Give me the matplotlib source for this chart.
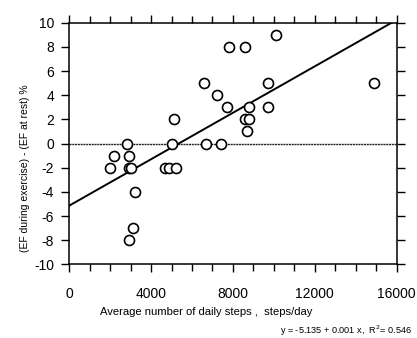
import numpy as np
import matplotlib
matplotlib.use("Agg")
import matplotlib.pyplot as plt

plt.rcParams['font.family'] = ['Liberation Sans', 'DejaVu Sans']
plt.rcParams['axes.unicode_minus'] = False

# donnees
pas = [2800, 5000, 2200, 2900, 2000, 2900, 3000, 4700, 4900, 5200, 3200, 3100, 2900, 5100,
       10100, 7800, 8600, 6600, 9700, 7200, 7700, 8800, 9700, 8600, 8800, 8700, 6700, 7400,
       14900]
delta_ef = [0, 0, -1, -1, -2, -2, -2, -2, -2, -2, -4, -7, -8, 2,
            9, 8, 8, 5, 5, 4, 3, 3, 3, 2, 2, 1, 0, 0,
            5]

# droite de regression (pente estimee sur l'image)
intercept = -5.135
pente = 0.00096

x_ticks = [0, 4000, 8000, 12000, 16000]
y_ticks = [10, 8, 6, 4, 2, 0, -2, -4, -6, -8, -10]

fig = plt.figure(figsize=(4.17, 3.38), dpi=100)
ax = fig.add_axes([0.166, 0.2175, 0.785, 0.7155])

ax.axhline(0, color='#222222', lw=1.0, ls=(0, (1.5, 0.5)), zorder=1)

xl = np.array([0, 16000])
ax.plot(xl, intercept + pente * xl, color='black', lw=1.4, zorder=2)

ax.plot(pas, delta_ef, 'o', mfc='white', mec='black', ms=7.2, mew=1.2, zorder=3)

ax.set_xlim(0, 16000)
ax.set_ylim(-10, 10)
ax.set_xticks(x_ticks)
ax.set_xticks(np.arange(0, 16001, 1000), minor=True)
ax.set_yticks(y_ticks)
ax.tick_params(axis='both', direction='out', length=6, width=1, labelsize=10,
               top=True, right=True)
ax.tick_params(axis='x', which='minor', direction='out', length=5, width=1, top=True)
ax.tick_params(axis='x', pad=10)
ax.tick_params(axis='y', pad=5)
ax.tick_params(axis='y', labelright=False)
for s in ax.spines.values():
    s.set_linewidth(1.1)

fig.text(206 / 417, 1 - 312 / 338, "Average number of daily steps ,  steps/day",
         ha='center', va='center', fontsize=8.1)
fig.text(25 / 417, 1 - 168 / 338, "(EF during exercise) - (EF at rest) %",
         ha='center', va='center', rotation=90, fontsize=7.5)
fig.text(346 / 417, 1 - 331 / 338, "y = -5.135 + 0.001 x,  R$^2$= 0.546",
         ha='center', va='center', fontsize=6.6)

fig.savefig("out.png", dpi=100)
